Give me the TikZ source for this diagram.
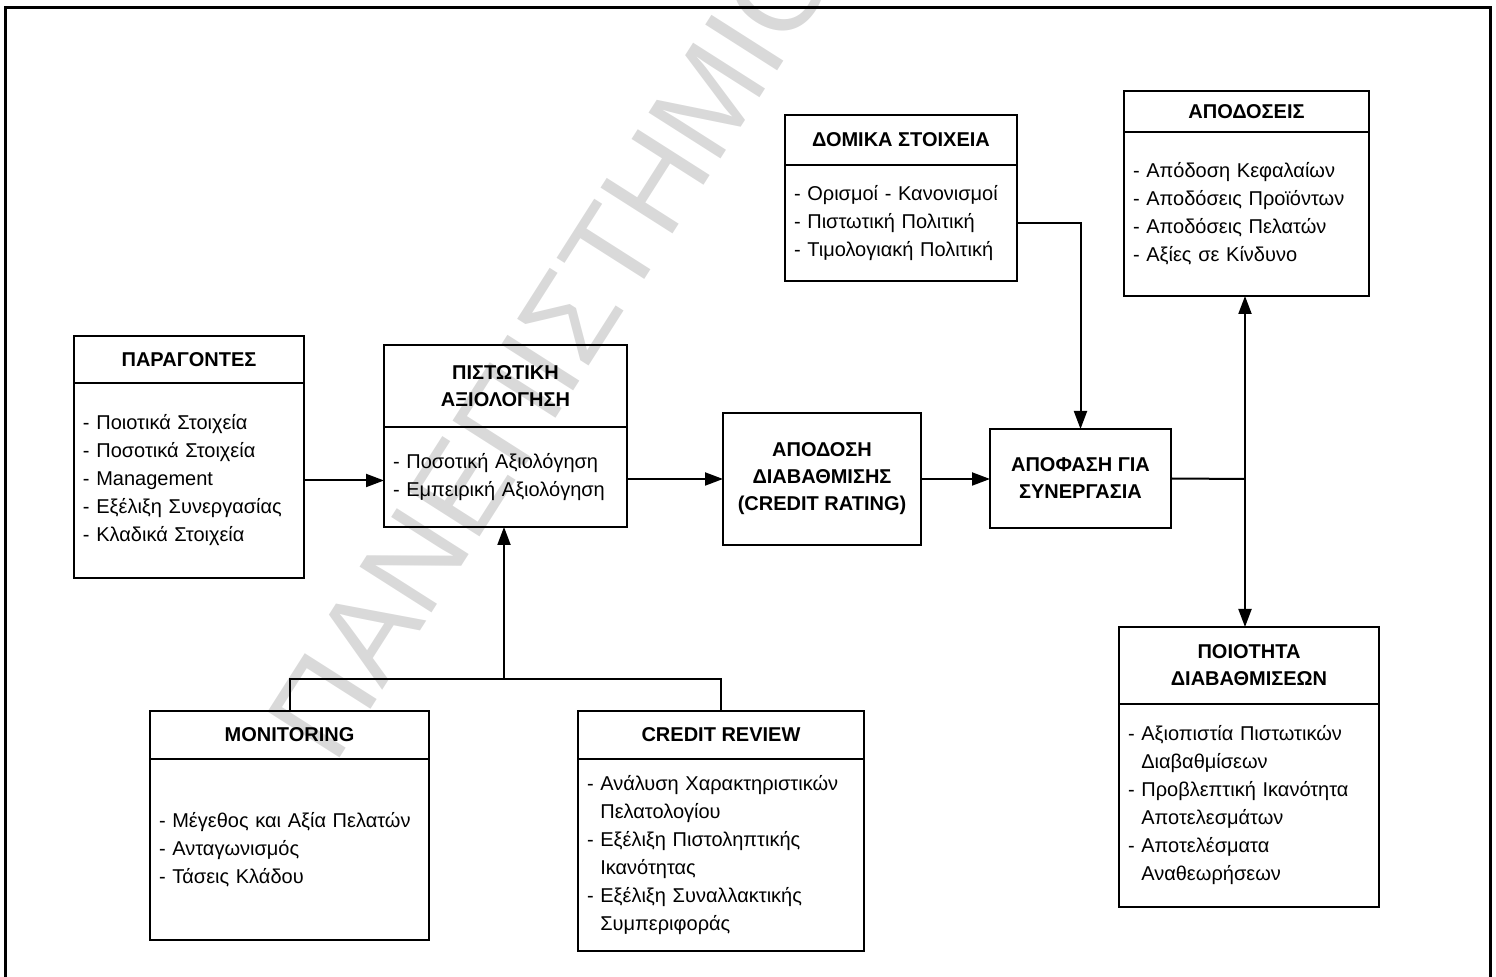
\documentclass[tikz,border=0pt]{standalone}
\usepackage{fontspec}
\setmainfont{Liberation Sans}
\usetikzlibrary{arrows.meta}

\begin{document}
\begin{tikzpicture}[x=0.5pt,y=-0.5pt,
    kopf/.style={draw, line width=0.9pt, font=\fontsize{10}{13.5}\selectfont\bfseries, align=center, inner sep=0pt, outer sep=0pt},
    inhalt/.style={draw, line width=0.9pt, font=\fontsize{10}{14}\selectfont, align=left, inner xsep=4.5pt, inner ysep=0pt, outer sep=0pt, anchor=north},
    pfeil/.style={line width=1pt, -{Triangle[length=9pt,width=6.5pt]}},
    linie/.style={line width=1pt}]
   \def\wmgrau{black!15}
   \def\rand{1.5pt}
   \useasboundingbox (0,0) rectangle (1496,977);
   % watermark
   \begin{scope}
       \clip (0,0) rectangle (1496,977);
       \node[rotate=57.5, text=\wmgrau, font=\fontsize{62}{62}\selectfont, inner sep=0pt] (wasser) at (552,345) {ΠΑΝΕΠΙΣΤΗΜΙΟ};
   \end{scope}
   \draw[line width=\rand] (5,977) -- (5,8) -- (1490,8) -- (1490,977);

   % boxes
   \node[kopf, minimum width=115pt, minimum height=23.5pt] (parh) at (189,359.5) {ΠΑΡΑΓΟΝΤΕΣ};
   \node[inhalt, text width=106pt, minimum height=97.5pt] (parb) at (parh.south) {- Ποιοτικά Στοιχεία\\- Ποσοτικά Στοιχεία\\- Management\\- Εξέλιξη Συνεργασίας\\- Κλαδικά Στοιχεία};

   \node[kopf, minimum width=121.5pt, minimum height=41pt] (pisth) at (505.5,386) {ΠΙΣΤΩΤΙΚΗ\\ΑΞΙΟΛΟΓΗΣΗ};
   \node[inhalt, text width=112.5pt, minimum height=50pt] (pistb) at (pisth.south) {- Ποσοτική Αξιολόγηση\\- Εμπειρική Αξιολόγηση};

   \node[kopf, minimum width=99pt, minimum height=66pt] (rating) at (822,479) {ΑΠΟΔΟΣΗ\\ΔΙΑΒΑΘΜΙΣΗΣ\\(CREDIT RATING)};

   \node[kopf, minimum width=116pt, minimum height=25pt] (domih) at (901,140) {ΔΟΜΙΚΑ ΣΤΟΙΧΕΙΑ};
   \node[inhalt, text width=107pt, minimum height=58pt] (domib) at (domih.south) {- Ορισμοί - Κανονισμοί\\- Πιστωτική Πολιτική\\- Τιμολογιακή Πολιτική};

   \node[kopf, minimum width=90.5pt, minimum height=49.5pt] (apof) at (1080.5,478.5) {ΑΠΟΦΑΣΗ ΓΙΑ\\ΣΥΝΕΡΓΑΣΙΑ};

   \node[kopf, minimum width=122.5pt, minimum height=20.5pt] (apodh) at (1246.5,111.5) {ΑΠΟΔΟΣΕΙΣ};
   \node[inhalt, text width=113.5pt, minimum height=82pt] (apodb) at (apodh.south) {- Απόδοση Κεφαλαίων\\- Αποδόσεις Προϊόντων\\- Αποδόσεις Πελατών\\- Αξίες σε Κίνδυνο};

   \node[kopf, minimum width=130pt, minimum height=38.5pt] (poioh) at (1249,665.5) {ΠΟΙΟΤΗΤΑ\\ΔΙΑΒΑΘΜΙΣΕΩΝ};
   \node[inhalt, text width=121pt, minimum height=101.5pt] (poiob) at (poioh.south) {- Αξιοπιστία Πιστωτικών\\\phantom{- }Διαβαθμίσεων\\- Προβλεπτική Ικανότητα\\\phantom{- }Αποτελεσμάτων\\- Αποτελέσματα\\\phantom{- }Αναθεωρήσεων};

   \node[kopf, minimum width=139.5pt, minimum height=24pt] (monih) at (289.5,735) {MONITORING};
   \node[inhalt, text width=130.5pt, minimum height=90.5pt] (monib) at (monih.south) {- Μέγεθος και Αξία Πελατών\\- Ανταγωνισμός\\- Τάσεις Κλάδου};

   \node[kopf, minimum width=143pt, minimum height=24pt] (crevh) at (721,735) {CREDIT REVIEW};
   \node[inhalt, text width=134pt, minimum height=96pt] (crevb) at (crevh.south) {- Ανάλυση Χαρακτηριστικών\\\phantom{- }Πελατολογίου\\- Εξέλιξη Πιστοληπτικής\\\phantom{- }Ικανότητας\\- Εξέλιξη Συναλλακτικής\\\phantom{- }Συμπεριφοράς};

   % connectors
   \coordinate (kn) at (1245,479);
   \coordinate (ku) at (504,679);
   \draw[pfeil] (parb.east) -- (parb.east -| pistb.west);
   \draw[pfeil] (rating.west -| pistb.east) -- (rating.west);
   \draw[pfeil] (rating.east) -- (rating.east -| apof.west);
   \draw[pfeil] (domib.east) -| (apof.north);
   \draw[linie] (apof.east) -- (kn);
   \draw[pfeil] (kn) -- (kn |- apodb.south);
   \draw[pfeil] (kn) -- (kn |- poioh.north);
   \draw[linie] (monih.north) |- (ku) -| (crevh.north);
   \draw[pfeil] (ku) -- (ku |- pistb.south);
\end{tikzpicture}
\end{document}
